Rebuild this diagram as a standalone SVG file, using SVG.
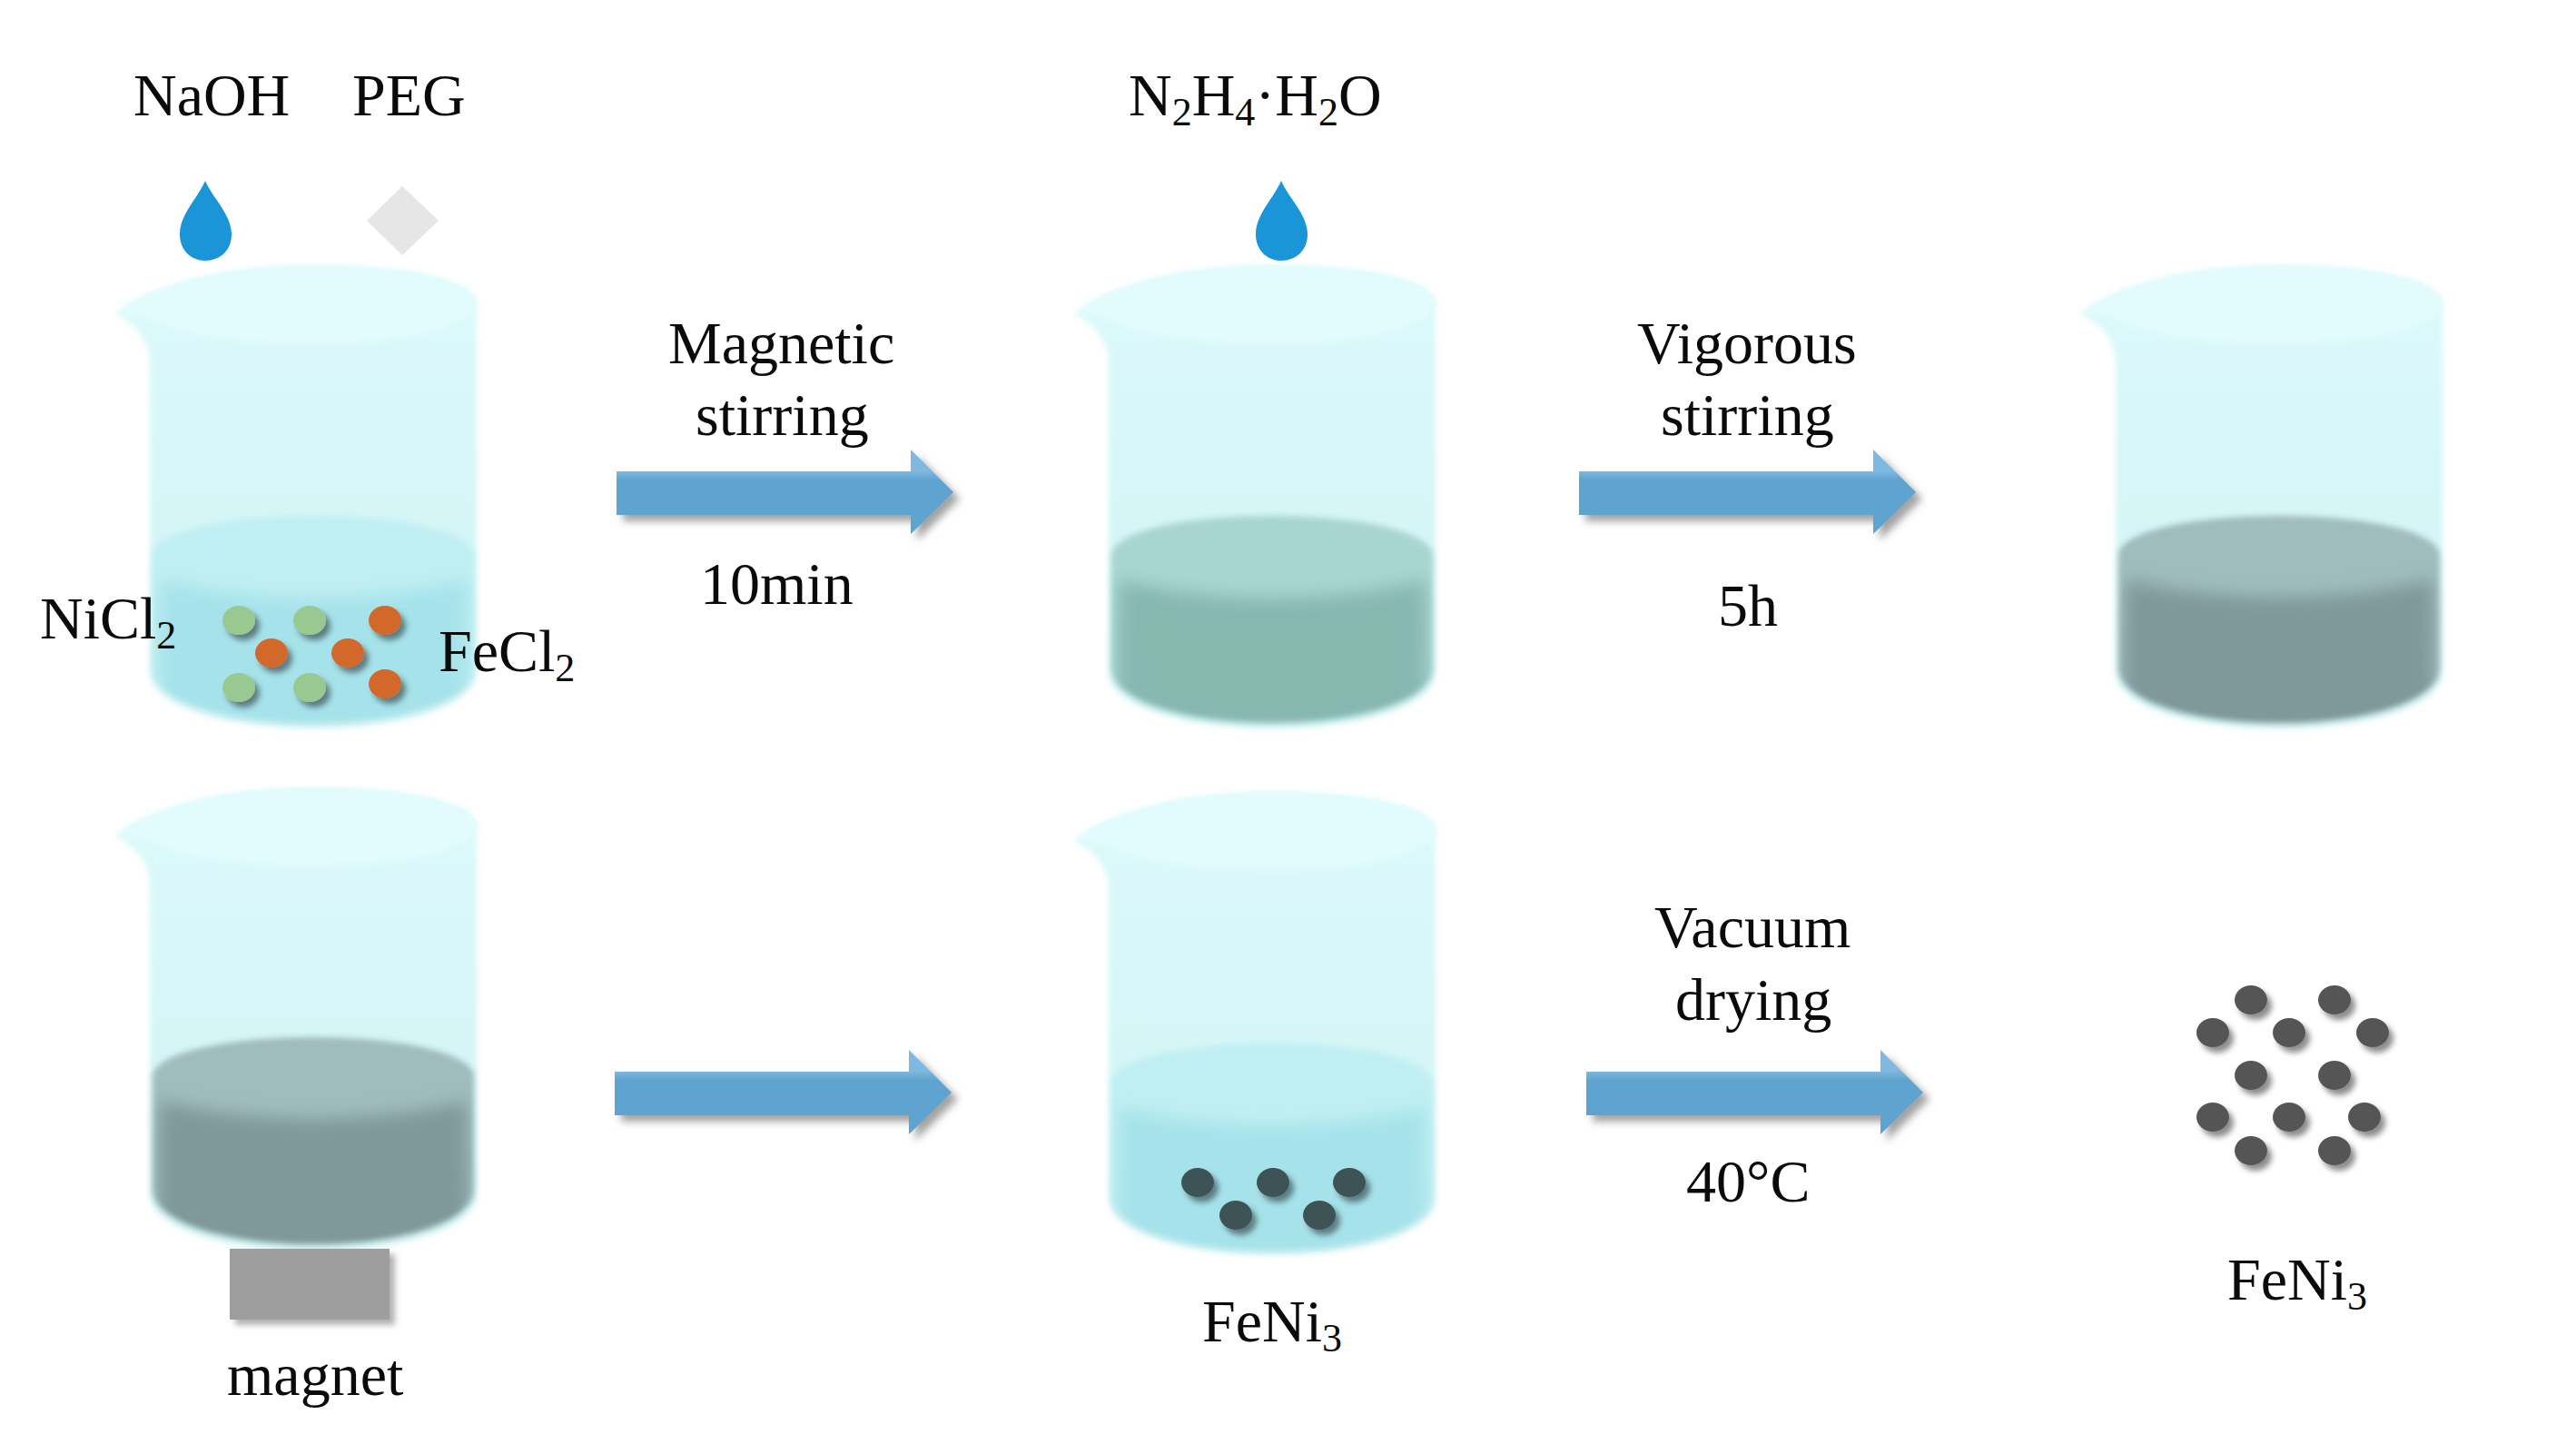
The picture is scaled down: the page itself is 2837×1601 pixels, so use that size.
<svg xmlns="http://www.w3.org/2000/svg" width="2837" height="1601" viewBox="0 0 2837 1601">
<style>
text{font-family:"Liberation Serif","Times New Roman",serif;font-size:66px;fill:#0a0a0a}
.s{font-size:44px}
.g{fill:#97c990}.o{fill:#d2682c}.d{fill:#3e5257}.k{fill:#555}
.p{filter:url(#sh)}
.a{fill:url(#ag);filter:url(#sa)}
.drop{fill:#1a96d8}
</style>
<defs>
<linearGradient id="gl" x1="0" y1="0" x2="0" y2="1"><stop offset="0" stop-color="#dcfafb"/><stop offset=".6" stop-color="#d5f5f6"/><stop offset="1" stop-color="#cff1f2"/></linearGradient>
<linearGradient id="ag" x1="0" y1="0" x2="0" y2="1"><stop offset=".25" stop-color="#7fb9e0"/><stop offset=".36" stop-color="#5fa4d0"/><stop offset="1" stop-color="#5fa4d0"/></linearGradient>
<filter id="b3" x="-5%" y="-5%" width="110%" height="110%"><feGaussianBlur stdDeviation="3"/></filter>
<filter id="b9" x="-10%" y="-30%" width="120%" height="160%"><feGaussianBlur stdDeviation="9"/></filter>
<filter id="sh" x="-40%" y="-40%" width="200%" height="200%"><feDropShadow dx="5" dy="6" stdDeviation="3" flood-color="#000" flood-opacity=".45"/></filter>
<filter id="sa" x="-3%" y="-20%" width="106%" height="140%"><feDropShadow dx="7" dy="7" stdDeviation="4" flood-color="#555" flood-opacity=".55"/></filter>
<filter id="sm" x="-10%" y="-15%" width="120%" height="130%"><feDropShadow dx="6" dy="6" stdDeviation="3" flood-color="#666" flood-opacity=".5"/></filter>
<clipPath id="lc"><path d="M168 612C168 585 250 568 345 568C440 568 522 585 522 612L522 735C522 772 440 796 345 796C250 796 168 772 168 735Z"/></clipPath>
<g id="glass">
<path filter="url(#b3)" fill="url(#gl)" d="M127 346C160 318 240 293 345 293C450 293 525 310 525 335L525 740C525 778 440 802 345 802C250 802 165 778 165 740L165 392C160 370 146 355 127 346Z"/>
<path filter="url(#b3)" fill="#e2fbfc" d="M127 346C160 318 240 293 345 293C450 293 525 310 525 335C525 360 450 379 345 379C260 379 190 368 165 352C155 349 140 348 127 346Z"/>
</g>
<g id="liquid">
<g filter="url(#b3)"><g clip-path="url(#lc)">
<rect x="160" y="560" width="370" height="245"/>
<path filter="url(#b9)" fill="currentColor" d="M176 638C230 652 290 658 345 658C400 658 460 652 514 638L516 810H174Z"/>
</g></g>
</g>
<path id="drop" class="drop" d="M226 199C218 218 198 236 198 258C198 275 210 287 226 287C243 287 255 275 255 258C255 236 234 218 226 199Z"/>
<path id="arr" class="a" d="M0 24H324V0L371 47L324 93V72H0Z"/>
</defs>
<rect width="2837" height="1601" fill="#fff"/>

<g id="beaker1">
<use href="#glass"/>
<use href="#liquid" fill="#c0eff3" color="#a6e2ea"/>
<g class="p"><ellipse class="g" cx="263" cy="683" rx="18" ry="16"/><ellipse class="g" cx="341" cy="683" rx="18" ry="16"/><ellipse class="g" cx="263" cy="757" rx="18" ry="16"/><ellipse class="g" cx="341" cy="757" rx="18" ry="16"/><ellipse class="o" cx="424" cy="683" rx="18" ry="16"/><ellipse class="o" cx="299" cy="719" rx="18" ry="16"/><ellipse class="o" cx="383" cy="719" rx="18" ry="16"/><ellipse class="o" cx="424" cy="753" rx="18" ry="16"/></g>
<use href="#drop"/>
<polygon points="404,243 443,205 483,243 443,281" fill="#e6e6e6"/>
<text x="147" y="127">NaOH</text>
<text x="388" y="127">PEG</text>
<text x="44" y="703">NiCl<tspan class="s" dy="11">2</tspan></text>
<text x="483" y="739">FeCl<tspan class="s" dy="11">2</tspan></text>
</g>

<g id="beaker2">
<use href="#glass" x="1056"/>
<use href="#liquid" x="1056" fill="#a9d5d0" color="#87b8b0"/>
<use href="#drop" x="1185"/>
<text x="1243" y="127">N<tspan class="s" dy="11">2</tspan><tspan dy="-11">H</tspan><tspan class="s" dy="11">4</tspan><tspan dy="-11">·H</tspan><tspan class="s" dy="11">2</tspan><tspan dy="-11">O</tspan></text>
</g>

<g id="beaker3">
<use href="#glass" x="2165"/>
<use href="#liquid" x="2165" fill="#a0bcbd" color="#7f9899"/>
</g>

<g id="beaker4">
<use href="#glass" y="575"/>
<use href="#liquid" y="574" fill="#a0bcbd" color="#7f9899"/>
<rect x="253" y="1375" width="176" height="78" fill="#9e9e9e" filter="url(#sm)"/>
<text x="250" y="1536">magnet</text>
</g>

<g id="beaker5">
<use href="#glass" x="1056" y="580"/>
<use href="#liquid" x="1056" y="581" fill="#c0eff3" color="#a6e2ea"/>
<g class="p"><ellipse class="d" cx="1319" cy="1302" rx="18" ry="16"/><ellipse class="d" cx="1402" cy="1302" rx="18" ry="16"/><ellipse class="d" cx="1486" cy="1302" rx="18" ry="16"/><ellipse class="d" cx="1361" cy="1338" rx="18" ry="16"/><ellipse class="d" cx="1453" cy="1338" rx="18" ry="16"/></g>
<text x="1324" y="1477">FeNi<tspan class="s" dy="11">3</tspan></text>
</g>

<g id="product">
<g class="p"><ellipse class="k" cx="2479" cy="1101" rx="18" ry="16"/><ellipse class="k" cx="2571" cy="1101" rx="18" ry="16"/><ellipse class="k" cx="2437" cy="1137" rx="18" ry="16"/><ellipse class="k" cx="2521" cy="1137" rx="18" ry="16"/><ellipse class="k" cx="2613" cy="1137" rx="18" ry="16"/><ellipse class="k" cx="2479" cy="1184" rx="18" ry="16"/><ellipse class="k" cx="2571" cy="1184" rx="18" ry="16"/><ellipse class="k" cx="2437" cy="1230" rx="18" ry="16"/><ellipse class="k" cx="2521" cy="1230" rx="18" ry="16"/><ellipse class="k" cx="2604" cy="1230" rx="18" ry="16"/><ellipse class="k" cx="2479" cy="1267" rx="18" ry="16"/><ellipse class="k" cx="2571" cy="1267" rx="18" ry="16"/></g>
<text x="2453" y="1431">FeNi<tspan class="s" dy="11">3</tspan></text>
</g>

<g id="connectors">
<use href="#arr" x="679" y="495"/>
<use href="#arr" x="1739" y="495"/>
<use href="#arr" x="677" y="1156"/>
<use href="#arr" x="1747" y="1156"/>
</g>

<g id="labels">
<text x="736" y="400">Magnetic</text>
<text x="766" y="479">stirring</text>
<text x="771" y="665">10min</text>
<text x="1803" y="400">Vigorous</text>
<text x="1829" y="479">stirring</text>
<text x="1892" y="689">5h</text>
<text x="1822" y="1043">Vacuum</text>
<text x="1845" y="1123">drying</text>
<text x="1857" y="1323">40°C</text>
</g>
</svg>
